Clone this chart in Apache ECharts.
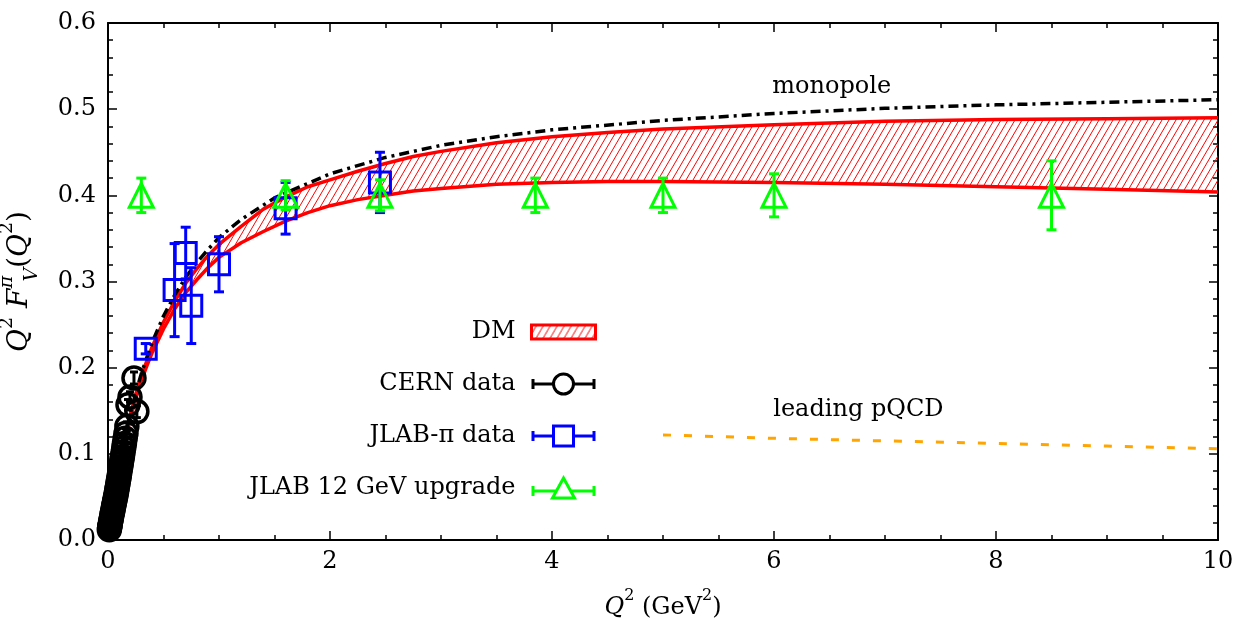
<!DOCTYPE html>
<html><head><meta charset="utf-8">
<script src="https://cdn.jsdelivr.net/npm/echarts@6/dist/echarts.min.js"></script>
<style>html,body{margin:0;padding:0;background:#fff}#c{width:1237px;height:621px}</style>
</head><body><div id="c"></div>
<script>
// ---------------- data ----------------
const cernQ2 = [0.012,0.014,0.016,0.019,0.022,0.026,0.030,0.034,0.038,0.042,0.046,0.050,0.054,0.058,0.062,0.066,0.070,0.074,0.078,0.082,0.086,0.090,0.094,0.098,0.102,0.106,0.110,0.115,0.120,0.125,0.130,0.136,0.142,0.148,0.155,0.162,0.170,0.180,0.198,0.234,0.260];
const cernVal = [0.012,0.014,0.016,0.017,0.020,0.023,0.025,0.028,0.031,0.033,0.036,0.039,0.041,0.044,0.046,0.049,0.051,0.054,0.057,0.060,0.063,0.066,0.069,0.072,0.075,0.078,0.082,0.085,0.089,0.093,0.097,0.102,0.107,0.112,0.118,0.124,0.132,0.157,0.166,0.188,0.149];
const cernErr = [0.002,0.002,0.002,0.002,0.002,0.002,0.002,0.002,0.002,0.002,0.002,0.002,0.002,0.002,0.002,0.002,0.002,0.002,0.002,0.003,0.003,0.003,0.003,0.003,0.003,0.003,0.003,0.003,0.003,0.004,0.004,0.004,0.004,0.004,0.005,0.005,0.005,0.006,0.006,0.007,0.007];

const jlabQ2  = [0.34, 0.60, 0.70, 0.75, 1.00, 1.60, 2.45];
const jlabVal = [0.222,0.290,0.333,0.272,0.320,0.385,0.415];
const jlabErr = [0.006,0.054,0.030,0.044,0.032,0.030,0.035];

const upgQ2  = [0.30, 1.60, 2.45, 3.85, 5.00, 6.00, 8.50];
const upgVal = [0.400,0.400,0.400,0.400,0.400,0.400,0.400];
const upgErr = [0.020,0.017,0.018,0.020,0.020,0.025,0.040];

const bandQ2   = [0,0.05,0.1,0.15,0.2,0.25,0.3,0.35,0.4,0.5,0.6,0.7,0.8,0.9,1.0,1.2,1.4,1.6,1.8,2.0,2.25,2.5,2.75,3.0,3.5,4.0,4.5,5.0,6.0,7.0,8.0,9.0,10.0];
const bandLow  = [0,0.045,0.082,0.113,0.140,0.164,0.185,0.202,0.218,0.245,0.268,0.287,0.302,0.316,0.328,0.345,0.358,0.370,0.380,0.388,0.395,0.400,0.405,0.408,0.413,0.415,0.416,0.416,0.415,0.413,0.410,0.407,0.404];
const bandHigh = [0,0.046,0.084,0.116,0.145,0.169,0.190,0.208,0.225,0.253,0.277,0.298,0.315,0.330,0.343,0.364,0.384,0.398,0.410,0.418,0.428,0.437,0.445,0.451,0.461,0.468,0.473,0.477,0.482,0.486,0.488,0.489,0.490];

const monoQ2  = [0,0.05,0.1,0.15,0.2,0.25,0.3,0.35,0.4,0.5,0.6,0.7,0.8,0.9,1.0,1.2,1.5,2.0,2.5,3.0,3.5,4.0,5.0,6.0,7.0,8.0,9.0,10.0];
const monoVal = [0,0.046,0.085,0.118,0.146,0.171,0.193,0.212,0.230,0.260,0.284,0.305,0.322,0.337,0.351,0.372,0.397,0.425,0.444,0.458,0.468,0.476,0.487,0.495,0.501,0.505,0.508,0.511];

const pqcdQ2  = [5,6,7,8,9,10];
const pqcdVal = [0.122,0.118,0.115,0.112,0.109,0.106];

const legendNames = ['DM','CERN data','JLAB-\u03c0 data','JLAB 12 GeV upgrade'];
const annotations = [{text:'monopole', q2:6.52, v:0.526},{text:'leading pQCD', q2:6.76, v:0.151}];

// ---------------- helpers ----------------
const FONT = '"DejaVu Serif", "Liberation Serif", serif';
function hatch(){
  const w=7,h=12,c=document.createElement('canvas'); c.width=w; c.height=h;
  const g=c.getContext('2d'); g.strokeStyle='#ff0000'; g.lineWidth=1;
  g.beginPath(); g.moveTo(0,h); g.lineTo(w,0);
  g.moveTo(-w,h); g.lineTo(0,0); g.moveTo(w,h); g.lineTo(2*w,0); g.stroke();
  return c;
}
const hatchPattern = {image: hatch(), repeat: 'repeat'};
const pts = (xs,ys)=>xs.map((x,i)=>[x,ys[i]]);
const errData = (xs,ys,es)=>xs.map((x,i)=>[x,ys[i]-es[i],ys[i]+es[i]]);
function errRender(cap,color){
  return function(params, api){
    const x=api.value(0), p1=api.coord([x,api.value(1)]), p2=api.coord([x,api.value(2)]);
    const st={stroke:color,lineWidth:3};
    return {type:'group',children:[
      {type:'line',shape:{x1:p1[0],y1:p1[1],x2:p2[0],y2:p2[1]},style:st},
      {type:'line',shape:{x1:p1[0]-cap/2,y1:p1[1],x2:p1[0]+cap/2,y2:p1[1]},style:st},
      {type:'line',shape:{x1:p2[0]-cap/2,y1:p2[1],x2:p2[0]+cap/2,y2:p2[1]},style:st}
    ]};
  };
}
function bandRender(params, api){
  const up = bandQ2.map((x,i)=>api.coord([x,bandHigh[i]]));
  const lo = bandQ2.map((x,i)=>api.coord([x,bandLow[i]])).reverse();
  return {type:'polygon',shape:{points:up.concat(lo)},style:{fill:hatchPattern,stroke:null}};
}

function mkRich(big, small){
  return {
    i:{fontFamily:FONT,fontStyle:'italic',fontSize:big,lineHeight:big+16,color:'#000'},
    n:{fontFamily:FONT,fontSize:big,lineHeight:big+16,color:'#000'},
    s:{fontFamily:FONT,fontSize:small,lineHeight:small+6,verticalAlign:'top',color:'#000'},
    p:{fontFamily:FONT,fontStyle:'italic',fontSize:small,lineHeight:small+2,verticalAlign:'top',align:'left',width:1,padding:[0,0,0,6],color:'#000'},
    v:{fontFamily:FONT,fontStyle:'italic',fontSize:small,lineHeight:small+6,verticalAlign:'bottom',color:'#000'}
  };
}

const axisCommon = {
  min:0, axisLine:{onZero:false,lineStyle:{color:'#000',width:2}},
  axisTick:{inside:true,length:9,lineStyle:{color:'#000',width:1.5}},
  splitLine:{show:false}
};
const minorX = {show:true,splitNumber:4,length:5,lineStyle:{color:'#000',width:1.5}};
const minorY = {show:true,splitNumber:5,length:5,lineStyle:{color:'#000',width:1.5}};

const option = {
  backgroundColor:'#fff',
  animation:false,
  grid:{left:108,right:19,top:23,bottom:81,containLabel:false,outerBoundsMode:'none'},
  xAxis:[
    Object.assign({},axisCommon,{type:'value',max:10,interval:2,position:'bottom',minorTick:minorX,
      axisLabel:{fontFamily:FONT,fontSize:24,color:'#000',margin:10},
      name:'{i|Q}{s|2} (GeV{s|2})',nameLocation:'middle',nameGap:48,
      nameTextStyle:{fontFamily:FONT,fontSize:24,color:'#000',rich:mkRich(24,16)}}),
    Object.assign({},axisCommon,{type:'value',max:10,interval:2,position:'top',minorTick:minorX,axisLabel:{show:false}})
  ],
  yAxis:[
    Object.assign({},axisCommon,{type:'value',max:0.6,interval:0.1,position:'left',minorTick:minorY,
      axisLabel:{fontFamily:FONT,fontSize:24,color:'#000',margin:12,formatter:v=>v.toFixed(1)},
      name:'{i|Q}{s|2} {i|F}{p|\u03c0}{v|V}{n|(}{i|Q}{s|2}{n|)}',nameLocation:'middle',nameGap:66,nameRotate:90,
      nameTextStyle:{fontFamily:FONT,fontSize:28,color:'#000',rich:mkRich(28,19)}}),
    Object.assign({},axisCommon,{type:'value',max:0.6,interval:0.1,position:'right',minorTick:minorY,axisLabel:{show:false}})
  ],
  legend:{
    orient:'vertical',align:'right',right:640,top:320,padding:0,
    itemWidth:64,itemHeight:20,itemGap:28,
    textStyle:{fontFamily:FONT,fontSize:24,color:'#000',padding:[0,11,0,0]},
    data:[
      {name:legendNames[0],icon:'path://M0,3L64,3L64,17L0,17Z',itemStyle:{color:hatchPattern,borderColor:'#ff0000',borderWidth:3}},
      {name:legendNames[1],icon:'path://M0,10L22,10M42,10L64,10M1.5,5L1.5,15M62.5,5L62.5,15M42,10A10,10 0 1 1 22,10A10,10 0 1 1 42,10Z',itemStyle:{color:'rgba(0,0,0,0)',borderColor:'#000',borderWidth:3}},
      {name:legendNames[2],icon:'path://M0,10L22,10M42,10L64,10M1.5,5L1.5,15M62.5,5L62.5,15M22,0L42,0L42,20L22,20Z',itemStyle:{color:'rgba(0,0,0,0)',borderColor:'#0000ff',borderWidth:3}},
      {name:legendNames[3],icon:'path://M0,13L25,13M39,13L64,13M1.5,8L1.5,18M62.5,8L62.5,18M32,0L43,20L21,20Z',itemStyle:{color:'rgba(0,0,0,0)',borderColor:'#00ff00',borderWidth:3}}
    ]
  },
  series:[
    {name:legendNames[0],type:'custom',renderItem:bandRender,data:[[5,0.45]],clip:true,z:1,silent:true,
      itemStyle:{color:hatchPattern,borderColor:'#ff0000'}},
    {type:'line',data:pts(bandQ2,bandHigh),symbol:'none',lineStyle:{color:'#ff0000',width:3.5},z:2,silent:true},
    {type:'line',data:pts(bandQ2,bandLow),symbol:'none',lineStyle:{color:'#ff0000',width:3.5},z:2,silent:true},
    {type:'line',data:pts(monoQ2,monoVal),symbol:'none',lineStyle:{color:'#000',width:3.5,type:[10,5,3,5]},z:3,silent:true,
      markPoint:{symbol:'circle',symbolSize:1,itemStyle:{color:'rgba(0,0,0,0)'},
        label:{show:true,position:'inside',fontFamily:FONT,fontSize:24,color:'#000',formatter:p=>p.name},
        data:annotations.map(a=>({name:a.text,coord:[a.q2,a.v]}))}},
    {type:'line',data:pts(pqcdQ2,pqcdVal),symbol:'none',lineStyle:{color:'#ffa500',width:3,type:[8,13]},z:3,silent:true},
    {type:'custom',renderItem:errRender(8,'#000'),data:errData(cernQ2,cernVal,cernErr),encode:{x:0,y:[1,2]},z:4,silent:true},
    {name:legendNames[1],type:'scatter',data:pts(cernQ2,cernVal),symbol:'circle',symbolSize:22,
      itemStyle:{color:'rgba(0,0,0,0)',borderColor:'#000',borderWidth:3.5,opacity:1},z:5,silent:true},
    {type:'custom',renderItem:errRender(10,'#0000ff'),data:errData(jlabQ2,jlabVal,jlabErr),encode:{x:0,y:[1,2]},z:4,silent:true},
    {name:legendNames[2],type:'scatter',data:pts(jlabQ2,jlabVal),symbol:'rect',symbolSize:21,
      itemStyle:{color:'rgba(0,0,0,0)',borderColor:'#0000ff',borderWidth:3,opacity:1},z:5,silent:true},
    {type:'custom',renderItem:errRender(10,'#00ff00'),data:errData(upgQ2,upgVal,upgErr),encode:{x:0,y:[1,2]},z:6,silent:true},
    {name:legendNames[3],type:'scatter',data:pts(upgQ2,upgVal),symbol:'triangle',symbolSize:[24,24],
      itemStyle:{color:'rgba(0,0,0,0)',borderColor:'#00ff00',borderWidth:3,opacity:1},z:7,silent:true}
  ]
};
const chart = echarts.init(document.getElementById('c'),null,{renderer:'canvas'});
chart.setOption(option);
</script></body></html>
